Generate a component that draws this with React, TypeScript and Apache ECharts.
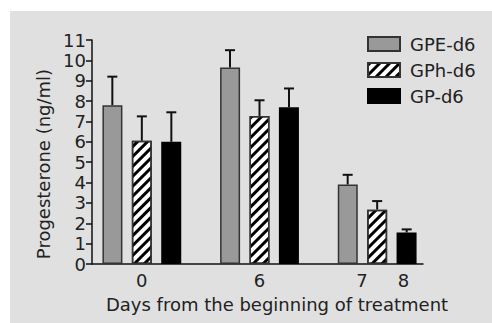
import React, { useEffect, useRef } from "react";
import * as echarts from "echarts";

const categories = ["0", "6", "7"];
const seriesNames = ["GPE-d6", "GPh-d6", "GP-d6"];
const gpeValues = [7.8, 9.65, 3.9];
const gpeErrors = [1.4, 0.85, 0.48];
const gphValues = [6.05, 7.27, 2.67];
const gphErrors = [1.2, 0.77, 0.42];
const gpValues = [6.0, 7.7, 1.55];
const gpErrors = [1.45, 0.92, 0.15];
const yTicks = [0, 1, 2, 3, 4, 5, 6, 7, 8, 9, 10, 11];

const FONT = "DejaVu Sans";
const TXT = "#222222";
const FS = 18;

export default function App() {
  const ref = useRef<HTMLDivElement>(null);
  useEffect(() => {
    if (!ref.current) return;
    const chart = echarts.init(ref.current, undefined, { renderer: "svg" });
    const values = [gpeValues, gphValues, gpValues];
    const errors = [gpeErrors, gphErrors, gpErrors];
    const barStyles: any[] = [
      { color: "#999999", borderColor: "#333333", borderWidth: 1.5 },
      {
        color: "#ffffff",
        borderColor: "#333333",
        borderWidth: 1.5,
        decal: {
          symbol: "rect",
          color: "#000000",
          dashArrayX: [1, 0],
          dashArrayY: [2.5, 3.5],
          rotation: -Math.PI / 4,
          symbolSize: 1,
        },
      },
      { color: "#000000", borderColor: "#000000", borderWidth: 1.5 },
    ];
    const barW = 20;
    const step = 29.5;
    const bars = seriesNames.map((name, i) => ({
      name,
      type: "bar",
      xAxisIndex: 1,
      yAxisIndex: 1,
      barWidth: barW,
      barGap: "47%",
      data: values[i],
      itemStyle: barStyles[i],
      z: 3,
    }));
    const errs = seriesNames.map((name, i) => ({
      type: "custom",
      xAxisIndex: 1,
      yAxisIndex: 1,
      z: 2,
      data: values[i].map((v, k) => [k, v, errors[i][k]]),
      renderItem: (params: any, api: any) => {
        const c = api.value(0);
        const v = api.value(1);
        const e = api.value(2);
        const p0 = api.coord([c, v]);
        const p1 = api.coord([c, v + e]);
        const x = p0[0] + (i - 1) * step;
        return {
          type: "group",
          children: [
            {
              type: "line",
              shape: { x1: x, y1: p0[1], x2: x, y2: p1[1] },
              style: { stroke: "#111", lineWidth: 2 },
            },
            {
              type: "line",
              shape: { x1: x - 5, y1: p1[1], x2: x + 5, y2: p1[1] },
              style: { stroke: "#111", lineWidth: 2 },
            },
          ],
        };
      },
    }));
    chart.setOption({
      animation: false,
      backgroundColor: "#ffffff",
      graphic: [
        {
          type: "rect",
          left: 10,
          top: 11,
          shape: { width: 482, height: 312 },
          style: { fill: "#e0e0e0" },
          z: -10,
          silent: true,
        },
      ],
      legend: {
        orient: "vertical",
        left: 367,
        top: 34,
        padding: 0,
        itemWidth: 32,
        itemHeight: 14,
        itemGap: 6,
        icon: "rect",
        data: seriesNames,
        textStyle: { fontFamily: FONT, fontSize: FS, color: TXT, lineHeight: 20, padding: [0, 0, 0, 5] },
      },
      grid: [
        { left: 92, right: 69, top: 40, bottom: 59 },
        { left: 83, right: 56, top: 40, bottom: 59 },
      ],
      xAxis: [
        {
          type: "category",
          gridIndex: 0,
          data: categories,
          axisLine: { lineStyle: { color: "#111", width: 1.5 } },
          axisTick: { show: false },
          axisLabel: { show: false },
          name: "Days from the beginning of treatment",
          nameLocation: "middle",
          nameGap: 31,
          nameTextStyle: { fontFamily: FONT, fontSize: FS, color: TXT, padding: [0, 0, 0, 39] },
        },
        {
          type: "category",
          gridIndex: 1,
          data: categories,
          axisLine: { show: false },
          axisTick: { show: false },
          axisLabel: {
            interval: 0,
            margin: 7,
            fontFamily: FONT,
            fontSize: FS,
            color: TXT,
            formatter: (v: string, idx: number) => (idx === 2 ? "{a|7}{b|8}" : v),
            rich: {
              a: { fontFamily: FONT, fontSize: FS, color: TXT, padding: [0, 30, 0, 11] },
              b: { fontFamily: FONT, fontSize: FS, color: TXT },
            },
          },
        },
      ],
      yAxis: [
        {
          type: "value",
          gridIndex: 0,
          min: yTicks[0],
          max: yTicks[yTicks.length - 1],
          interval: 1,
          axisLine: { show: true, lineStyle: { color: "#111", width: 1.5 } },
          axisTick: { show: true, length: 6, lineStyle: { color: "#111", width: 1.5 } },
          axisLabel: { margin: 6, fontFamily: FONT, fontSize: FS, color: TXT },
          splitLine: { show: false },
          name: "Progesterone (ng/ml)",
          nameLocation: "middle",
          nameGap: 40,
          nameTextStyle: { fontFamily: FONT, fontSize: FS, color: TXT, padding: [0, 24, 0, 0] },
        },
        {
          type: "value",
          gridIndex: 1,
          min: 0,
          max: 11,
          interval: 1,
          show: false,
          splitLine: { show: false },
        },
      ],
      series: [...errs, ...bars],
    });
    return () => chart.dispose();
  }, []);
  return (
    <div
      ref={ref}
      style={{ position: "fixed", left: 0, top: 0, width: 492, height: 323 }}
    />
  );
}
